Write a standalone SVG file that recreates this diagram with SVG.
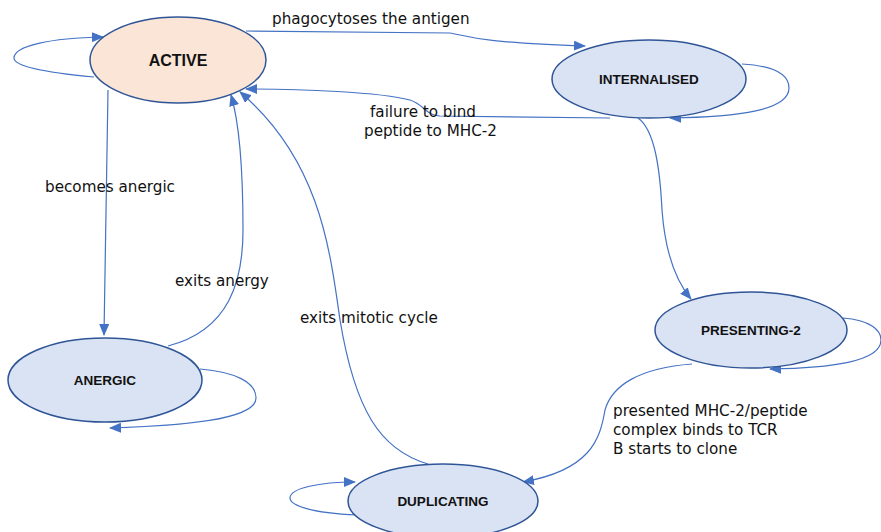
<svg xmlns="http://www.w3.org/2000/svg" width="881" height="532" viewBox="0 0 881 532">
<style>
.node{stroke:#2F5597;stroke-width:1.5}
.blue{fill:#DAE3F3}
.peach{fill:#FBE5D6}
.nl{font-family:"Liberation Sans",Arial,sans-serif;font-weight:bold;fill:#111;text-anchor:middle}
.el{font-family:"DejaVu Sans",Verdana,sans-serif;font-size:15.2px;fill:#111}
.c{fill:none;stroke:#4472C4;stroke-width:1.2;marker-end:url(#ah)}
</style>
<defs>
<marker id="ah" markerUnits="userSpaceOnUse" markerWidth="12" markerHeight="10" refX="11" refY="5" orient="auto">
<path d="M0,0 L12,5 L0,10 Z" fill="#4472C4"/>
</marker>
</defs>
<g id="connectors">
<path class="c" d="M94,77 C40,72 14,66 14,58 C14,46 50,38 103,37"/>
<path class="c" d="M246,31 L450,33 C470,36 470,42 585,46"/>
<path class="c" d="M610,118 L440,116 C425,115 425,105 410,100 C380,92 300,89 246,89"/>
<path class="c" d="M108,90 L104,335"/>
<path class="c" d="M168,346 C230,330 243,280 243,230 C243,170 240,125 231,95"/>
<path class="c" d="M428,464 C380,450 355,410 340,320 C330,250 320,160 240,92"/>
<path class="c" d="M638,118 C655,130 660,170 662,210 C665,250 675,280 691,299"/>
<path class="c" d="M692,364 C640,368 612,385 605,410 C600,440 590,470 523,482"/>
<path class="c" d="M742,64 C775,66 789,75 789,88 C789,110 740,117 670,118"/>
<path class="c" d="M843,318 C870,320 881,330 881,340 C881,362 830,368 770,369"/>
<path class="c" d="M200,369 C235,372 256,382 256,398 C256,420 180,426 110,428"/>
<path class="c" d="M357,515 C310,513 290,505 290,498 C290,488 320,482 355,482"/>
</g>
<g id="active">
<ellipse class="node peach" cx="178" cy="60" rx="88" ry="43"/>
<text class="nl" x="178" y="66" font-size="16">ACTIVE</text>
</g>
<g id="internalised">
<ellipse class="node blue" cx="649" cy="79" rx="97" ry="39"/>
<text class="nl" x="649" y="84" font-size="13.5">INTERNALISED</text>
</g>
<g id="presenting2">
<ellipse class="node blue" cx="751" cy="330" rx="96" ry="38"/>
<text class="nl" x="751" y="335" font-size="13.5">PRESENTING-2</text>
</g>
<g id="anergic">
<ellipse class="node blue" cx="105" cy="380" rx="97" ry="42"/>
<text class="nl" x="105" y="385" font-size="13.5">ANERGIC</text>
</g>
<g id="duplicating">
<ellipse class="node blue" cx="443" cy="501" rx="95" ry="37"/>
<text class="nl" x="443" y="506" font-size="13.5">DUPLICATING</text>
</g>
<g id="labels">
<text class="el" x="272" y="24">phagocytoses the antigen</text>
<text class="el" x="370" y="117">failure to bind</text>
<text class="el" x="364" y="136">peptide to MHC-2</text>
<text class="el" x="45" y="192">becomes anergic</text>
<text class="el" x="175" y="286">exits anergy</text>
<text class="el" x="300" y="323">exits mitotic cycle</text>
<text class="el" x="613" y="416">presented MHC-2/peptide</text>
<text class="el" x="613" y="435">complex binds to TCR</text>
<text class="el" x="613" y="454">B starts to clone</text>
</g>
</svg>
